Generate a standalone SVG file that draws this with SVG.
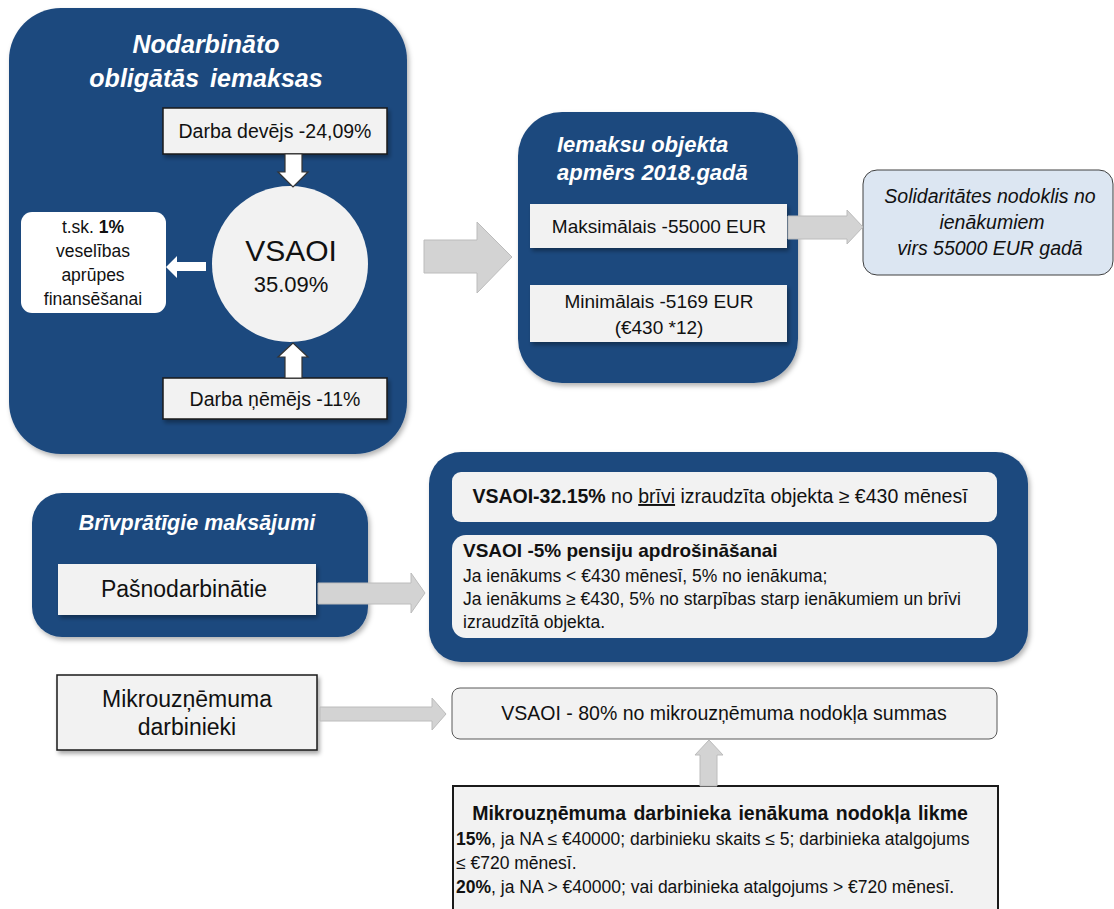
<svg xmlns="http://www.w3.org/2000/svg" width="1114" height="909" viewBox="0 0 1114 909">
<defs>
<filter id="sh" x="-10%" y="-10%" width="130%" height="140%">
<feDropShadow dx="2" dy="3" stdDeviation="2" flood-color="#000" flood-opacity="0.35"/>
</filter>
<filter id="shb" x="-10%" y="-10%" width="130%" height="130%">
<feDropShadow dx="2" dy="3" stdDeviation="2.5" flood-color="#000" flood-opacity="0.3"/>
</filter>
</defs>
<style>
text{font-family:"Liberation Sans",Arial,sans-serif;fill:#111}
.blue{fill:#1f4a7e;filter:url(#shb)}
.title{fill:#fff;font-weight:bold;font-style:italic}
.box{fill:#f2f2f2}
.sbox{fill:#f2f2f2;stroke:#1a1a1a;stroke-width:1.5}
.garrow{fill:#d3d3d3;stroke:#bcbcbc;stroke-width:1}
.warrow{fill:#fff;stroke:#333;stroke-width:1.2}
.c{text-anchor:middle}
.b{font-weight:bold}
</style>
<rect width="1114" height="909" fill="#fff"/>

<g id="group-obligatas">
<rect class="blue" x="9" y="8" width="398" height="446" rx="52"/>
<text class="title c" x="206" y="53" font-size="25">Nodarbināto</text>
<text class="title c" x="206" y="87" font-size="25" word-spacing="4">obligātās iemaksas</text>
</g>
<g id="darba-devejs">
<rect class="sbox" x="163" y="108" width="224" height="46" filter="url(#sh)"/>
<text class="c" x="275" y="138" font-size="19.5">Darba devējs -24,09%</text>
</g>
<g id="vsaoi-circle">
<circle cx="290" cy="264" r="78" fill="#f2f2f2"/>
<text class="c" x="291" y="261" font-size="30">VSAOI</text>
<text class="c" x="291" y="292" font-size="22">35.09%</text>
</g>
<g id="veselibas">
<rect x="21" y="212" width="145" height="101" rx="11" fill="#fff"/>
<text class="c" x="93" y="233" font-size="17.5">t.sk. <tspan class="b">1%</tspan></text>
<text class="c" x="93" y="257" font-size="17.5">veselības</text>
<text class="c" x="93" y="281" font-size="17.5">aprūpes</text>
<text class="c" x="93" y="305" font-size="17.5">finansēšanai</text>
</g>
<g id="darba-nemejs">
<rect class="sbox" x="163" y="378" width="224" height="41" filter="url(#sh)"/>
<text class="c" x="275" y="406" font-size="19.5">Darba ņēmējs -11%</text>
</g>

<g id="group-objekts">
<rect class="blue" x="518" y="112" width="280" height="271" rx="44"/>
<text class="title" x="557" y="152" font-size="22">Iemaksu objekta</text>
<text class="title" x="557" y="180" font-size="22">apmērs 2018.gadā</text>
</g>
<g id="maksimalais">
<rect class="box" x="530" y="204" width="257" height="44" filter="url(#sh)"/>
<text class="c" x="659" y="233" font-size="19">Maksimālais -55000 EUR</text>
</g>
<g id="minimalais">
<rect class="box" x="530" y="285" width="257" height="57" filter="url(#sh)"/>
<text class="c" x="659" y="308" font-size="19">Minimālais -5169 EUR</text>
<text class="c" x="659" y="334" font-size="19">(€430 *12)</text>
</g>
<g id="solidaritates">
<rect x="863" y="170" width="250" height="105" rx="14" fill="#dce6f2" stroke="#404040" stroke-width="1"/>
<text class="c" x="990" y="203" font-size="19.5" font-style="italic">Solidaritātes nodoklis no</text>
<text class="c" x="992" y="229" font-size="19.5" font-style="italic">ienākumiem</text>
<text class="c" x="990" y="255" font-size="19.5" font-style="italic">virs 55000 EUR gadā</text>
</g>

<g id="group-brivpratigie">
<rect class="blue" x="32" y="493" width="336" height="144" rx="30"/>
<text class="title c" x="197" y="530" font-size="21.5">Brīvprātīgie maksājumi</text>
</g>
<g id="pasnodarbinatie">
<rect class="box" x="58" y="564" width="258" height="51" filter="url(#sh)"/>
<text class="c" x="184" y="597" font-size="23">Pašnodarbinātie</text>
</g>

<g id="group-brivpratigie-likmes">
<rect class="blue" x="429" y="452" width="599" height="210" rx="32"/>
</g>
<g id="vsaoi-3215">
<rect class="box" x="452" y="472" width="545" height="50" rx="9"/>
<text class="c" x="720" y="503" font-size="19.5"><tspan class="b">VSAOI-32.15%</tspan> no <tspan text-decoration="underline">brīvi</tspan> izraudzīta objekta ≥ €430 mēnesī</text>
</g>
<g id="vsaoi-5">
<rect class="box" x="452" y="535" width="545" height="103" rx="14"/>
<text class="b" x="463" y="557" font-size="19">VSAOI -5% pensiju apdrošināšanai</text>
<text x="463" y="582" font-size="17.5">Ja ienākums &lt; €430 mēnesī, 5% no ienākuma;</text>
<text x="463" y="605" font-size="17.5">Ja ienākums ≥ €430, 5% no starpības starp ienākumiem un brīvi</text>
<text x="463" y="628" font-size="17.5">izraudzītā objekta.</text>
</g>

<g id="mikro-darbinieki">
<rect class="sbox" x="57" y="675" width="260" height="75" filter="url(#sh)"/>
<text class="c" x="187" y="707" font-size="23">Mikrouzņēmuma</text>
<text class="c" x="187" y="735" font-size="23">darbinieki</text>
</g>
<g id="vsaoi-80">
<rect x="452" y="688" width="545" height="51" rx="8" fill="#f2f2f2" stroke="#595959" stroke-width="1"/>
<text class="c" x="724" y="720" font-size="19.5">VSAOI - 80% no mikrouzņēmuma nodokļa summas</text>
</g>
<g id="mikro-likme">
<rect x="453" y="786" width="545" height="140" fill="#f2f2f2" stroke="#1a1a1a" stroke-width="2"/>
<text class="c b" x="720" y="820" font-size="19.5" word-spacing="2">Mikrouzņēmuma darbinieka ienākuma nodokļa likme</text>
<text x="456" y="845" font-size="17.5"><tspan class="b">15%</tspan>, ja NA ≤ €40000; darbinieku skaits ≤ 5; darbinieka atalgojums</text>
<text x="456" y="869" font-size="17.5">≤ €720 mēnesī.</text>
<text x="456" y="893" font-size="17.5"><tspan class="b">20%</tspan>, ja NA &gt; €40000; vai darbinieka atalgojums &gt; €720 mēnesī.</text>
</g>

<g id="connectors">
<polygon class="warrow" points="285,154 302,154 302,172 308,172 293,187 278,172 285,172"/>
<polygon class="warrow" points="285,378 302,378 302,357 308,357 293,343 278,357 285,357"/>
<polygon points="206,262 177,262 177,256 166,267 177,278 177,271 206,271" fill="#fff"/>
<polygon class="garrow" points="424,240 477,240 477,222 512,257 477,293 477,273 424,273"/>
<polygon class="garrow" points="788,216 847,216 847,210 863,227 847,244 847,239 788,239"/>
<polygon class="garrow" points="318,583 411,583 411,573 425,593 411,613 411,604 318,604"/>
<polygon class="garrow" points="320,707 432,707 432,698 446,714 432,730 432,721 320,721"/>
<polygon class="garrow" points="700,786 700,755 695,755 709,740 723,755 717,755 717,786"/>
</g>
</svg>
